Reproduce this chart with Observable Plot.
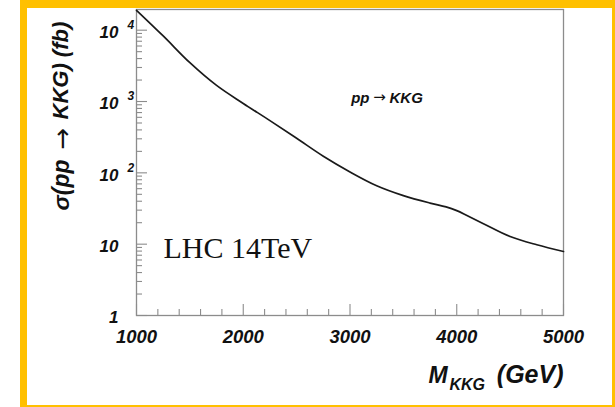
<!DOCTYPE html>
<html><head><meta charset="utf-8">
<script src="https://cdn.jsdelivr.net/npm/d3@7"></script>
<script src="https://cdn.jsdelivr.net/npm/@observablehq/plot@0.6"></script>
<style>
body{margin:0;background:#fff;}
#wrap{position:relative;width:615px;height:407px;overflow:hidden;background:#fff;}
.bar{position:absolute;background:#FFC000;}
#chart{position:absolute;left:0;top:0;}
</style></head>
<body>
<div id="wrap">
<div id="chart"></div>
<div class="bar" style="left:20px;top:0;width:7px;height:407px"></div>
<div class="bar" style="left:20px;top:0;width:595px;height:8px"></div>
<div class="bar" style="left:612px;top:0;width:3px;height:407px"></div>
<div class="bar" style="left:20px;top:405px;width:595px;height:2px"></div>
</div>
<script>
// Data
const mass  = [1000, 1250, 1500, 1750, 2000, 2250, 2500, 2750, 3000, 3250, 3500, 3750, 3900, 4000, 4100, 4250, 4500, 4750, 5000];
const sigma = [19000, 8300, 3500, 1680, 940, 540, 305, 171, 103, 66, 48, 37.7, 33.3, 29.5, 25, 19.4, 12.8, 9.8, 7.9];

const xMajorTicks = [1000, 2000, 3000, 4000, 5000];
const xMinorTicks = d3.range(1200, 5000, 200).filter(v => v % 1000 !== 0);
const yMajorTicks = [1, 10, 100, 1000, 10000];
const yMinorTicks = [1, 10, 100, 1000, 10000].flatMap(d => [2,3,4,5,6,7,8,9].map(k => k * d)).filter(v => v < 19500);

const curveLabelParts = ["pp", "\u2192", "KKG"];
const energyLabel = "LHC 14TeV";
const yTitleParts = ["\u03c3(pp", "\u2192", "KKG) (fb)"];
const xTitleParts = ["M", "KKG", "(GeV)"];

const data = mass.map((m, i) => ({m, s: sigma[i]}));

const sans = "'Liberation Sans', 'DejaVu Sans', Arial, Helvetica, sans-serif";
const bi = {fontFamily: sans, fontWeight: "bold", fontStyle: "italic", fill: "#111"};
const arrowFont = {fontFamily: "'DejaVu Sans', sans-serif", fill: "#111"};
const gray = "#8c8c8c";

const plot = Plot.plot({
  width: 615,
  height: 407,
  marginLeft: 136,
  marginRight: 52,
  marginTop: 9,
  marginBottom: 92,
  style: {background: "transparent", overflow: "visible"},
  x: {domain: [1000, 5000], axis: null},
  y: {type: "log", domain: [1, 19500], axis: null},
  marks: [
    Plot.frame({stroke: gray, strokeWidth: 1.3}),
    // inward x ticks
    Plot.axisX(xMajorTicks, {anchor: "bottom", tickSize: -11, text: null, stroke: gray, strokeWidth: 1.1, label: null}),
    Plot.axisX(xMinorTicks, {anchor: "bottom", tickSize: -6, text: null, stroke: gray, strokeWidth: 1.1, label: null}),
    // inward y ticks
    Plot.axisY(yMajorTicks, {anchor: "left", tickSize: -11, text: null, stroke: gray, strokeWidth: 1.1, label: null}),
    Plot.axisY(yMinorTicks, {anchor: "left", tickSize: -6, text: null, stroke: gray, strokeWidth: 1.1, label: null}),
    // x tick labels
    Plot.text(xMajorTicks, {x: d => d, frameAnchor: "bottom", dy: 27, text: d => String(d), fontSize: 18.5, ...bi}),
    // y tick labels: mantissa and exponent
    Plot.text(yMajorTicks, {x: 1000, y: d => d, text: d => d >= 10 ? "10" : "1", textAnchor: "end", dx: -18, dy: 2.5, fontSize: 17, ...bi}),
    Plot.text(yMajorTicks.filter(d => d >= 100), {x: 1000, y: d => d, text: d => String(Math.round(Math.log10(d))), textAnchor: "start", dx: -9, dy: -5, fontSize: 12, ...bi}),
    // curve
    Plot.line(data, {x: "m", y: "s", curve: "catmull-rom", stroke: "#1a1a1a", strokeWidth: 1.7}),
    // curve annotation
    Plot.text([curveLabelParts[0]], {x: 3276, y: 1100, dx: -10, text: d => d, textAnchor: "end", fontSize: 15, ...bi}),
    Plot.text([curveLabelParts[1]], {x: 3276, y: 1100, dy: -1, text: d => d, textAnchor: "middle", fontSize: 15, ...arrowFont}),
    Plot.text([curveLabelParts[2]], {x: 3276, y: 1100, dx: 10, text: d => d, textAnchor: "start", fontSize: 15, ...bi}),
    Plot.text([energyLabel], {x: 1253, y: 8.6, text: d => d, textAnchor: "start", fontSize: 30, fontFamily: "'Liberation Serif', 'Times New Roman', serif", fill: "#111"}),
    // x title
    Plot.text([xTitleParts[0]], {frameAnchor: "bottom-right", dx: -135, dy: 67, text: d => d, textAnchor: "start", fontSize: 23, ...bi}),
    Plot.text([xTitleParts[1]], {frameAnchor: "bottom-right", dx: -114, dy: 74, text: d => d, textAnchor: "start", fontSize: 16, ...bi}),
    Plot.text([xTitleParts[2]], {frameAnchor: "bottom-right", dx: 0, dy: 67, text: d => d, textAnchor: "end", fontSize: 25, ...bi}),
    // y title (rotated)
    Plot.text([yTitleParts[0]], {frameAnchor: "top-left", dx: -84, dy: 150, rotate: -90, text: d => d, textAnchor: "end", fontSize: 23, ...bi}),
    Plot.text([yTitleParts[1]], {frameAnchor: "top-left", dx: -84, dy: 129, rotate: -90, text: d => d, textAnchor: "middle", fontSize: 26, ...arrowFont}),
    Plot.text([yTitleParts[2]], {frameAnchor: "top-left", dx: -84, dy: 110, rotate: -90, text: d => d, textAnchor: "start", fontSize: 22, ...bi})
  ]
});
document.getElementById("chart").appendChild(plot);
</script>
</body></html>
